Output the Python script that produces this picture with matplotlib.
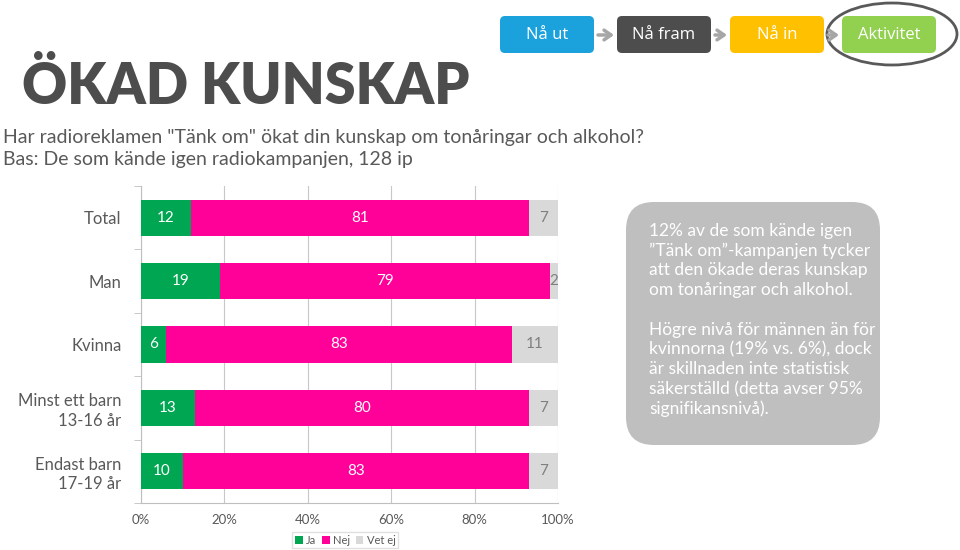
import matplotlib.pyplot as plt
from matplotlib.patches import FancyBboxPatch, Ellipse
import numpy as np

# data
groups = ['Total', 'Man', 'Kvinna', 'Minst ett barn\n13-16 år', 'Endast barn\n17-19 år']
ja = [12, 19, 6, 13, 10]
nej = [81, 79, 83, 80, 83]
vetej = [7, 2, 11, 7, 7]
series_names = ['Ja', 'Nej', 'Vet ej']
colors = ['#00A651', '#FF0099', '#D9D9D9']
ticks = [0, 20, 40, 60, 80, 100]

steps = ['Nå ut', 'Nå fram', 'Nå in', 'Aktivitet']
step_colors = ['#1BA1DC', '#4D4D4D', '#FFC000', '#92D050']

note1 = ['12% av de som kände igen', '\u201dTänk om\u201d-kampanjen tycker',
         'att den ökade deras kunskap', 'om tonåringar och alkohol.']
note2 = ['Högre nivå för männen än för', 'kvinnorna (19% vs. 6%), dock',
         'är skillnaden inte statistisk', 'säkerställd (detta avser 95%',
         'signifikansnivå).']

plt.rcParams['font.family'] = ['Lato', 'DejaVu Sans']

fig = plt.figure(figsize=(9.6, 5.5), dpi=100)

# background layer in pixel coords
bg = fig.add_axes([0, 0, 1, 1])
bg.set_xlim(0, 960)
bg.set_ylim(550, 0)
bg.axis('off')

bg.text(22, 104, 'ÖKAD KUNSKAP', fontsize=40, fontweight='heavy', color='#4D4D4D',
        va='baseline', ha='left')
bg.text(3, 138, 'Har radioreklamen "Tänk om" ökat din kunskap om tonåringar och alkohol?',
        fontsize=14, color='#595959', va='center')
bg.text(3, 160, 'Bas: De som kände igen radiokampanjen, 128 ip',
        fontsize=14, color='#595959', va='center')

# process buttons
bx = [500, 617, 730, 842]
bw = 94
for i, (s, c) in enumerate(zip(steps, step_colors)):
    bg.add_patch(FancyBboxPatch((bx[i], 16), bw, 37, boxstyle='round,pad=0,rounding_size=5',
                                fc=c, ec='none'))
    bg.text(bx[i] + bw / 2, 35, s, color='white', fontsize=12, ha='center', va='center',
            family=['Open Sans', 'DejaVu Sans'])
    if i < 3:
        bg.annotate('', xy=(bx[i + 1] - 3, 35), xytext=(bx[i] + bw + 4, 35),
                    arrowprops=dict(arrowstyle='->,head_length=0.5,head_width=0.35',
                                    color='#A6A6A6', lw=2.5, shrinkA=0, shrinkB=0))
bg.add_patch(Ellipse((892, 34), 130, 62, fill=False, ec='#595959', lw=2))

# note box
bg.add_patch(FancyBboxPatch((626, 202), 254, 243, boxstyle='round,pad=0,rounding_size=28',
                            fc='#BFBFBF', ec='none'))
for k, line in enumerate(note1):
    bg.text(649, 231 + k * 19.7, line, color='white', fontsize=12.5, va='center', ha='left')
for k, line in enumerate(note2):
    bg.text(649, 330 + k * 19.7, line, color='white', fontsize=12.5, va='center', ha='left')

# chart
ax = fig.add_axes([141 / 960, (550 - 503) / 550, (558 - 141) / 960, (503 - 186) / 550])
ax.set_facecolor('none')
y = np.arange(len(groups))
h = 0.57
left = np.zeros(len(groups))
for vals, c, name in zip([ja, nej, vetej], colors, series_names):
    vals = np.array(vals)
    ax.barh(y, vals, left=left, height=h, color=c, label=name, zorder=3)
    for yi, l, v in zip(y, left, vals):
        tc = '#7F7F7F' if name == 'Vet ej' else 'white'
        ax.text(l + v / 2, yi, str(v), ha='center', va='center', color=tc, fontsize=11, zorder=4)
    left = left + vals

ax.set_xlim(0, 100)
ax.set_ylim(len(groups) - 0.5, -0.5)
ax.set_xticks(ticks)
ax.set_xticklabels([f'{t}%' for t in ticks], fontsize=9.5, color='#595959')
ax.set_yticks(y)
ax.set_yticklabels(groups, fontsize=12, color='#595959', linespacing=1.25)
ax.tick_params(axis='y', length=0, pad=14)
ax.tick_params(axis='x', length=0, pad=8)
ax.set_yticks(np.arange(-0.5, len(groups), 1), minor=True)
ax.tick_params(axis='y', which='minor', length=5, color='#BFBFBF')
ax.grid(axis='x', color='#C8C8C8', lw=0.8, zorder=0)
for s in ['top', 'right']:
    ax.spines[s].set_visible(False)
for s in ['left', 'bottom']:
    ax.spines[s].set_color('#BFBFBF')

leg = ax.legend(loc='center', bbox_to_anchor=(0.49, -0.117), ncol=3, fontsize=8,
                frameon=True, handlelength=0.7, handleheight=0.7, handletextpad=0.3,
                columnspacing=0.5, borderpad=0.25, fancybox=False)
leg.get_frame().set_edgecolor('#D9D9D9')
for t in leg.get_texts():
    t.set_color('#595959')

fig.savefig('out.png', dpi=100)
